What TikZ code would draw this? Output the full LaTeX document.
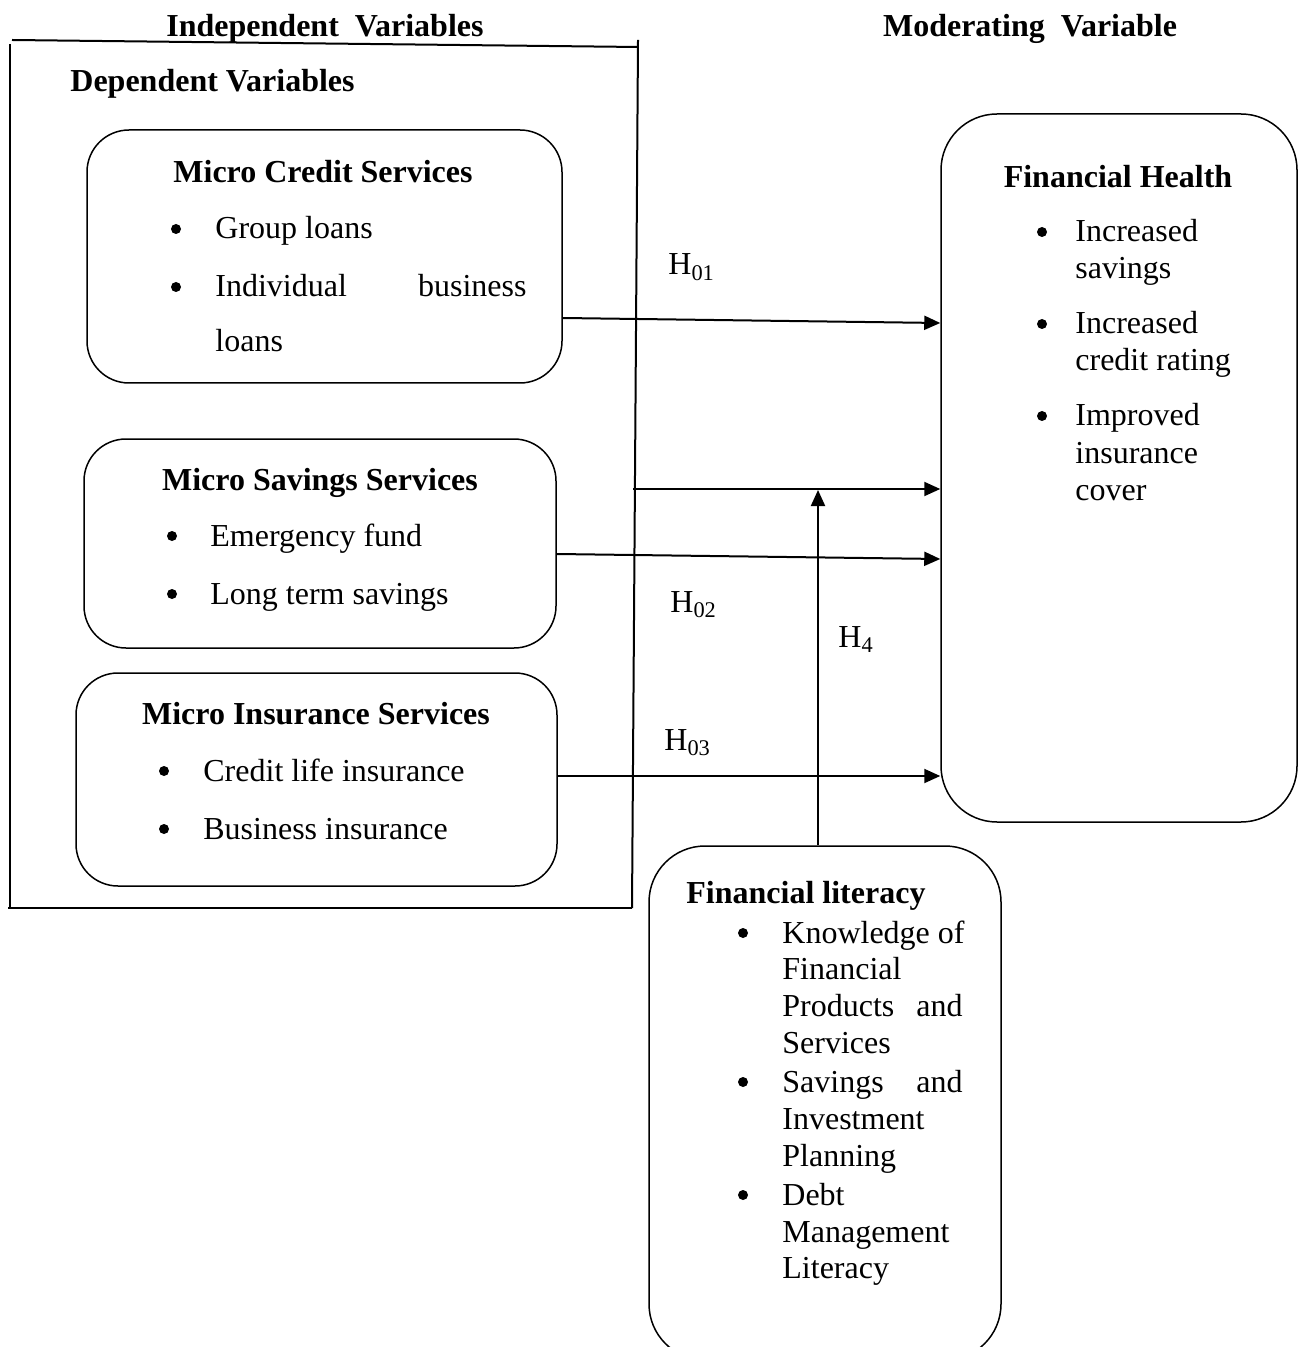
\documentclass[tikz,border=0pt]{standalone}
\usepackage{fontspec}
\setmainfont{Liberation Serif}
\usetikzlibrary{fit,arrows.meta}
\begin{document}
\begin{tikzpicture}[x=0.5pt,y=-0.5pt,
  txt/.style={font=\fontsize{16}{18.5}\selectfont, inner sep=0pt, anchor=base west},
  ttl/.style={font=\fontsize{16}{18.5}\selectfont\bfseries, inner sep=0pt, anchor=base},
  bul/.style={circle, fill, inner sep=0pt, minimum size=5pt},
  box/.style={draw, line width=0.75pt, inner sep=0pt},
  frame/.style={line width=1pt},
  arr/.style={line width=1pt, -{Triangle[length=8pt,width=7pt]}}]
\useasboundingbox (0,0) rectangle (1305,1347);
\clip (0,0) rectangle (1305,1347);

% headings
\node[ttl] (hind) at (325,37) {Independent\ \ Variables};
\node[ttl] (hmod) at (1030,37) {Moderating\ \ Variable};
\node[ttl, anchor=base west] (hdep) at (70,92) {Dependent Variables};

% frame
\draw[frame] (12,40) -- (638,47);
\draw[frame] (10,44) -- (10,908);
\draw[frame] (638,40) -- (632,908);
\draw[frame] (8,908) -- (632,908);

% boxes
\node[box, rounded corners=21pt, fit={(87,130) (562,383)}] (credit) {};
\node[box, rounded corners=21pt, fit={(84,439) (556,648)}] (savings) {};
\node[box, rounded corners=21pt, fit={(76,673) (557,886)}] (insur) {};
\node[box, rounded corners=28pt, fit={(941,114) (1297,822)}] (health) {};
\node[box, rounded corners=28pt, fit={(649,846) (1001,1360)}] (lit) {};

% credit
\node[ttl] (ct) at (323,183) {Micro Credit Services};
\node[bul] (cb1) at (176,229) {};
\node[txt] (c1) at (215,239) {Group loans};
\node[bul] (cb2) at (176,287) {};
\node[txt] (c2) at (215,297) {Individual};
\node[txt, anchor=base east] (c2b) at (527,297) {business};
\node[txt] (c3) at (215,352) {loans};

% savings
\node[ttl] (st) at (320,490) {Micro Savings Services};
\node[bul] (sb1) at (172,536) {};
\node[txt] (s1) at (210,546) {Emergency fund};
\node[bul] (sb2) at (172,594) {};
\node[txt] (s2) at (210,604) {Long term savings};

% insurance
\node[ttl] (it) at (316,724) {Micro Insurance Services};
\node[bul] (ib1) at (164,771) {};
\node[txt] (i1) at (203,781) {Credit life insurance};
\node[bul] (ib2) at (164,829) {};
\node[txt] (i2) at (203,839) {Business insurance};

% health
\node[ttl] (ht) at (1118,188) {Financial Health};
\node[bul] (hb1) at (1042,232) {};
\node[txt] (h1) at (1075,242) {Increased};
\node[txt] (h2) at (1075,279) {savings};
\node[bul] (hb2) at (1042,324) {};
\node[txt] (h3) at (1075,334) {Increased};
\node[txt] (h4) at (1075,371) {credit rating};
\node[bul] (hb3) at (1042,416) {};
\node[txt] (h5) at (1075,426) {Improved};
\node[txt] (h6) at (1075,463) {insurance};
\node[txt] (h7) at (1075,500) {cover};

% literacy
\node[ttl, anchor=base west] (lt) at (686,903) {Financial literacy};
\node[bul] (lb1) at (743,933) {};
\node[txt] (l1) at (782,943) {Knowledge of};
\node[txt] (l2) at (782,979) {Financial};
\node[txt] (l3) at (782,1016) {Products};
\node[txt, anchor=base east] (l3b) at (963,1016) {and};
\node[txt] (l4) at (782,1053) {Services};
\node[bul] (lb2) at (743,1082) {};
\node[txt] (l5) at (782,1092) {Savings};
\node[txt, anchor=base east] (l5b) at (963,1092) {and};
\node[txt] (l6) at (782,1129) {Investment};
\node[txt] (l7) at (782,1166) {Planning};
\node[bul] (lb3) at (743,1195) {};
\node[txt] (l8) at (782,1205) {Debt};
\node[txt] (l9) at (782,1242) {Management};
\node[txt] (l10) at (782,1278) {Literacy};

% hypothesis labels
\node[txt] (H01) at (668,275) {H\textsubscript{01}};
\node[txt] (H02) at (670,612) {H\textsubscript{02}};
\node[txt] (H03) at (664,750) {H\textsubscript{03}};
\node[txt] (H4) at (838,647) {H\textsubscript{4}};

% connectors
\coordinate (a2s) at (633,489);
\coordinate (h4top) at (818,490);
\draw[arr] (credit.east |- 0,318) -- (health.west |- 0,323);
\draw[arr] (a2s) -- (health.west |- a2s);
\draw[arr] (savings.east |- 0,554) -- (health.west |- 0,559);
\draw[arr] (insur.east |- 0,776) -- (health.west |- 0,776);
\draw[arr] (lit.north -| h4top) -- (h4top);
\end{tikzpicture}
\end{document}
